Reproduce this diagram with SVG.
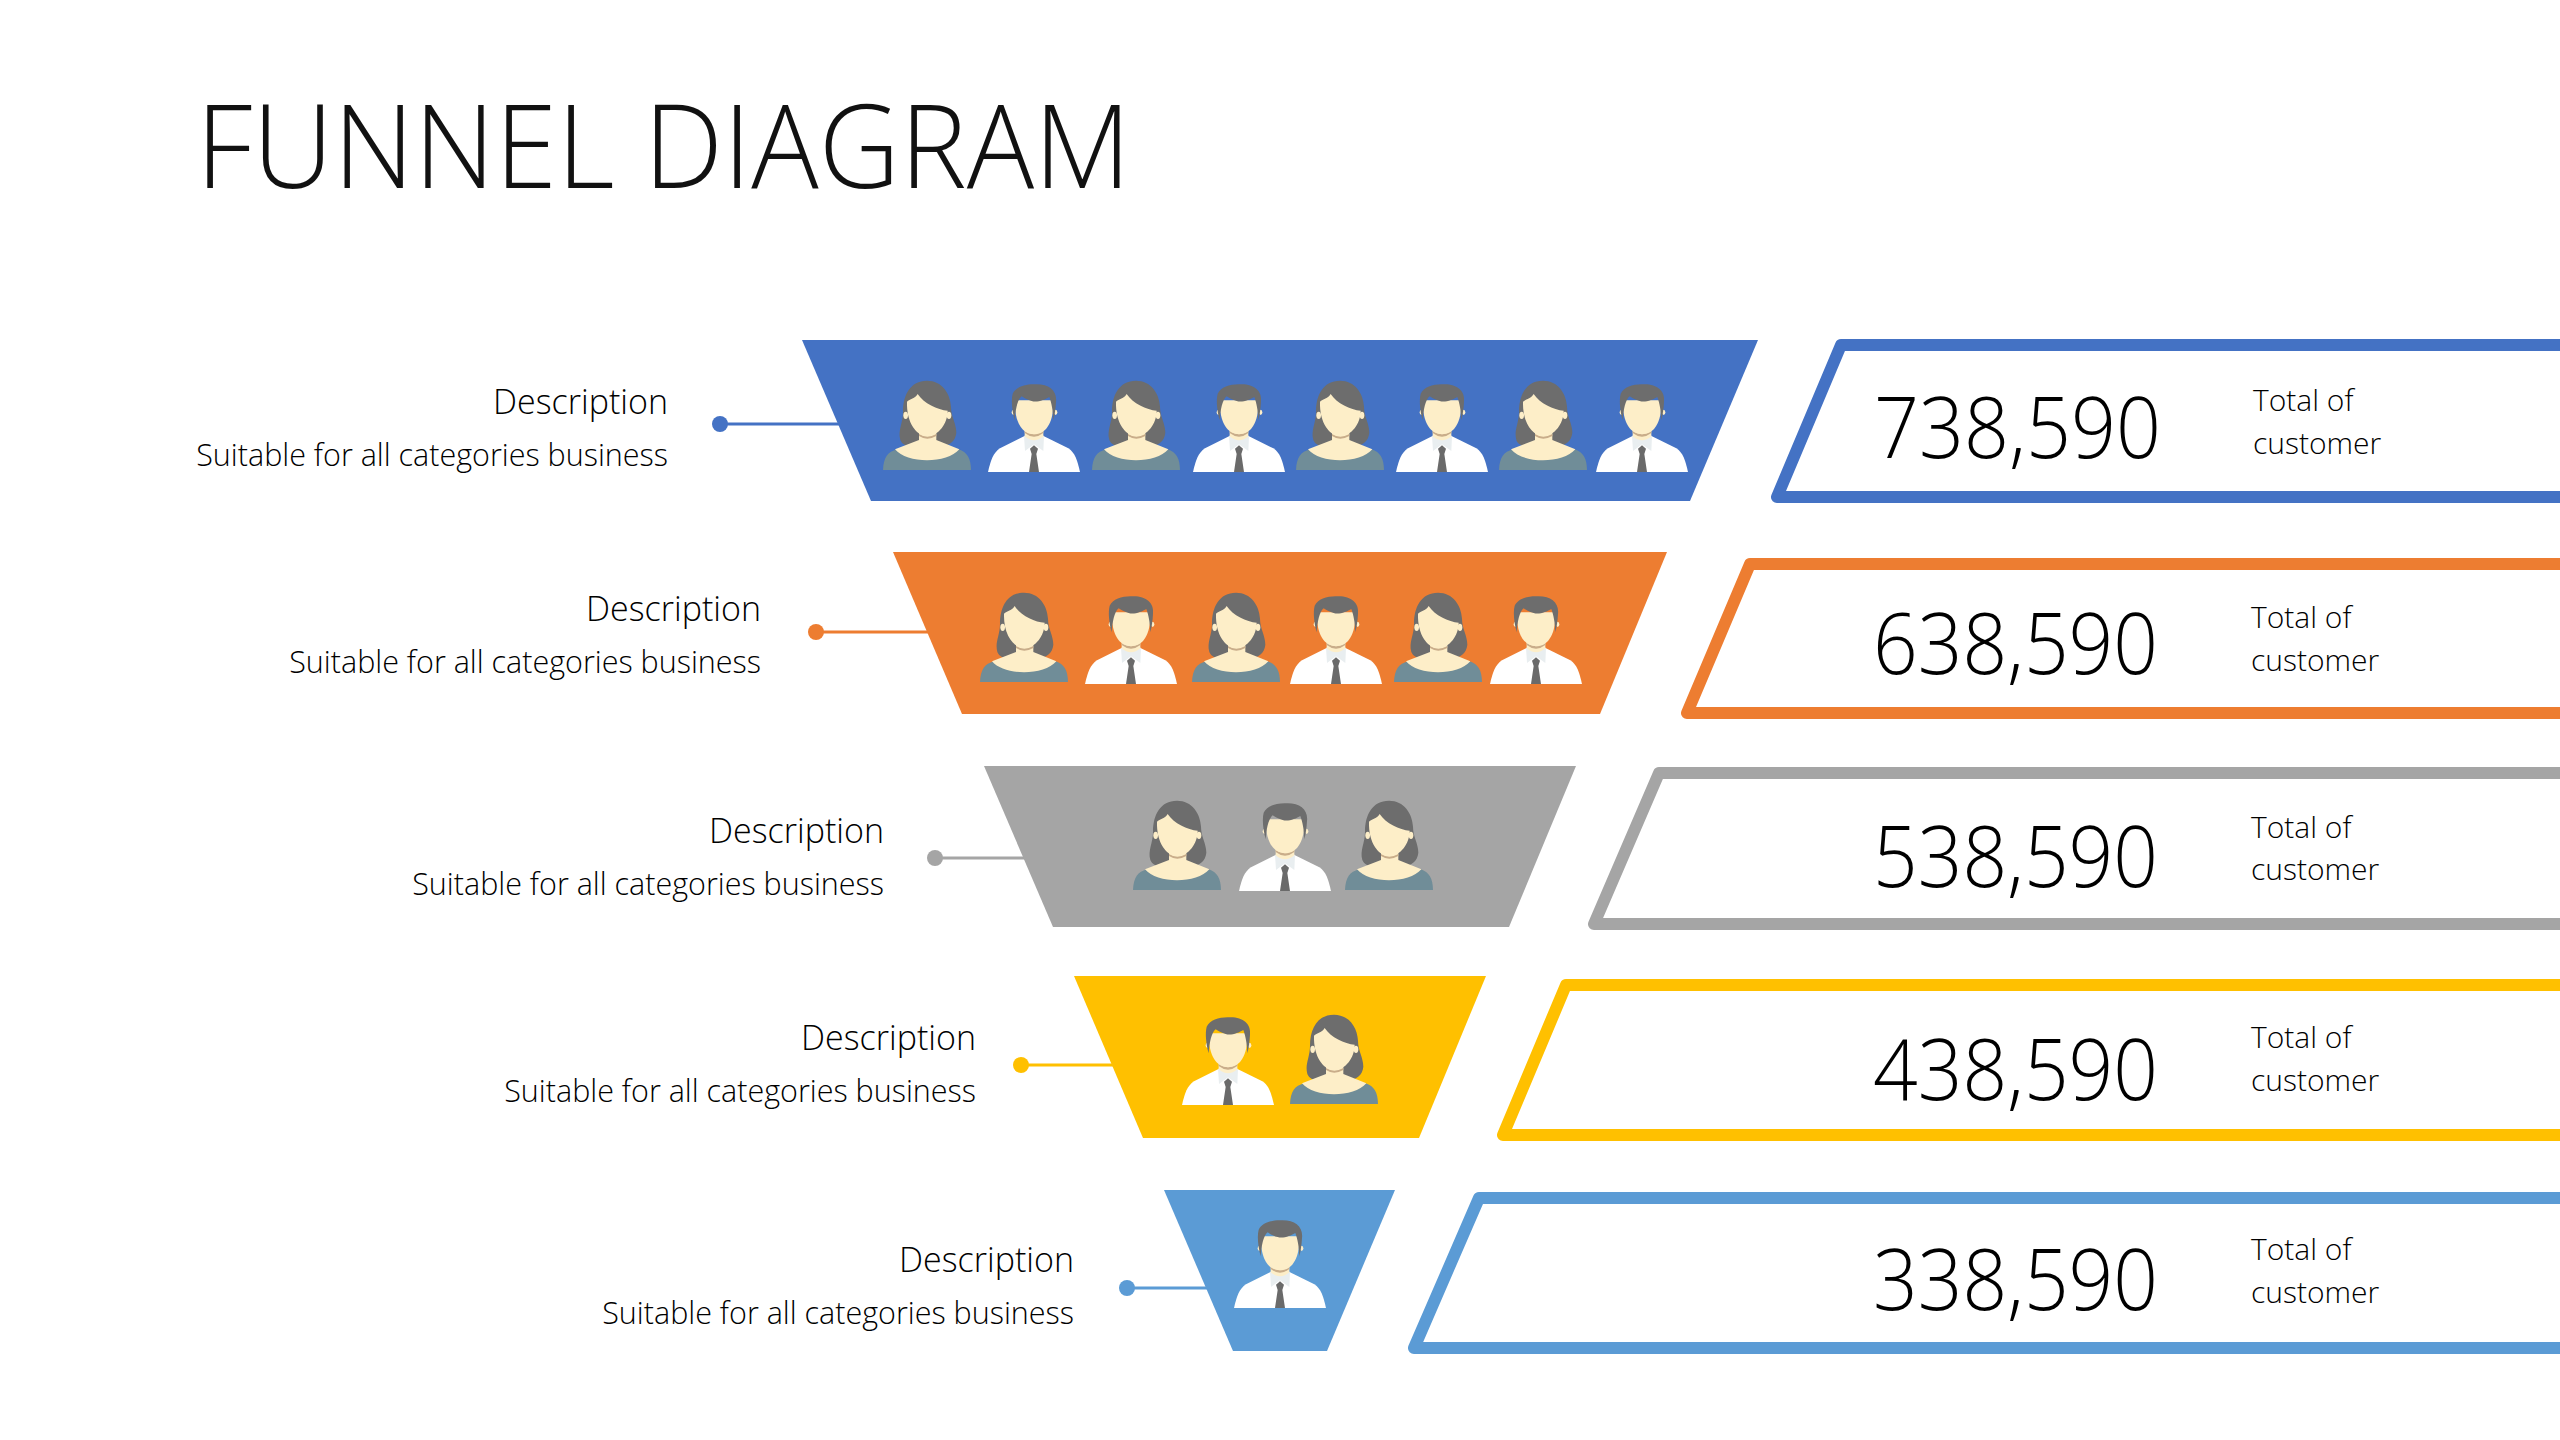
<svg xmlns="http://www.w3.org/2000/svg" width="2560" height="1440" viewBox="0 0 2560 1440">
<style>
text{font-family:"Open Sans","Noto Sans",sans-serif;font-weight:300;fill:#000}
.title{font-size:116px;fill:#111}
.d{font-size:34px;text-anchor:end}
.s{font-size:30.5px;text-anchor:end}
.n{font-size:84px}
.t{font-size:30px}
.box{fill:#fff;stroke-width:12;stroke-linejoin:round}
.lead{stroke-width:3;fill:none}
</style>
<defs>
<g id="man"><g transform="scale(.3333) translate(-522 -335)">
<path fill="#fff" d="M384,335C392,300 400,277 420,264L492,228H552L625,264C645,277 652,300 660,335Z"/>
<path fill="#e9eef0" d="M492,226H552L550,272L522,252L495,272Z"/>
<path fill="#fdeec8" d="M494,190H550V228Q522,252 494,228Z"/>
<path fill="#c9ad8a" d="M494,212Q522,232 550,212V218Q522,240 494,218Z"/>
<ellipse cx="460" cy="156" rx="5" ry="8" fill="#fdeec8"/><ellipse cx="587" cy="156" rx="5" ry="8" fill="#fdeec8"/>
<path fill="#fdeec8" d="M465,120C462,190 490,222 522,222C556,222 582,190 580,120Z"/>
<path fill="#6d6d6d" d="M464,180C456,150 453,120 458,100C468,78 500,70 530,72C568,72 592,92 588,125C587,145 584,165 580,180C579,150 575,130 568,110C555,118 530,128 515,122C500,118 490,112 485,108C472,118 466,150 464,180Z"/>
<path fill="#6a6a6a" d="M510,265L522,255L534,265L529,281L537,335H507L515,281Z"/>
</g></g>
<g id="woman"><g transform="scale(.3333) translate(-200 -330)">
<path fill="#6d6d6d" d="M200,62C150,62 128,105 128,155C128,190 112,210 120,240C128,262 160,262 178,255H228C255,265 285,250 288,218C288,190 272,170 272,140C270,100 245,62 200,62Z"/>
<path fill="#708d98" d="M68,330C70,292 82,276 110,268C150,302 250,302 295,268C320,276 332,296 332,330Z"/>
<path fill="#fdeec8" d="M104,268L176,240V210H228V240L297,268C260,312 140,312 104,268Z"/>
<path fill="#c9ad8a" d="M176,222Q200,238 228,222V228Q200,244 176,228Z"/>
<ellipse cx="136" cy="166" rx="7" ry="11" fill="#fdeec8"/><ellipse cx="266" cy="166" rx="7" ry="11" fill="#fdeec8"/>
<path fill="#fdeec8" d="M140,125C138,190 170,228 200,228C235,228 262,190 262,152C232,150 190,130 172,102C165,115 148,118 140,125Z"/>
</g></g>
</defs>
<rect width="2560" height="1440" fill="#fff"/>
<text class="title" x="196" y="188" textLength="935" lengthAdjust="spacingAndGlyphs">FUNNEL DIAGRAM</text>

<g id="connectors">
<g stroke="#4472c4" class="lead"><path d="M720,424H842"/></g><circle cx="720" cy="424" r="8" fill="#4472c4"/>
<g stroke="#ed7d31" class="lead"><path d="M816,632H930"/></g><circle cx="816" cy="632" r="8" fill="#ed7d31"/>
<g stroke="#a5a5a5" class="lead"><path d="M935,858H1026"/></g><circle cx="935" cy="858" r="8" fill="#a5a5a5"/>
<g stroke="#ffc000" class="lead"><path d="M1021,1065H1115"/></g><circle cx="1021" cy="1065" r="8" fill="#ffc000"/>
<g stroke="#5b9bd5" class="lead"><path d="M1127,1288H1210"/></g><circle cx="1127" cy="1288" r="8" fill="#5b9bd5"/>
</g>

<g id="row1">
<text class="d" x="668" y="414">Description</text><text class="s" x="668" y="466">Suitable for all categories business</text>
<path fill="#4472c4" d="M802,340H1758L1690,501H871Z"/>
<use href="#woman" x="927" y="470"/><use href="#man" x="1034" y="472"/><use href="#woman" x="1136" y="470"/><use href="#man" x="1239" y="472"/><use href="#woman" x="1340" y="470"/><use href="#man" x="1442" y="472"/><use href="#woman" x="1543" y="470"/><use href="#man" x="1642" y="472"/>
<path class="box" stroke="#4472c4" d="M2600,345H1841L1777,497H2600"/>
<text class="n" x="1874" y="458" textLength="287" lengthAdjust="spacingAndGlyphs">738,590</text>
<text class="t" x="2253" y="411">Total of</text><text class="t" x="2253" y="454">customer</text>
</g>
<g id="row2">
<text class="d" x="761" y="621">Description</text><text class="s" x="761" y="673">Suitable for all categories business</text>
<path fill="#ed7d31" d="M893,552H1667L1600,714H962Z"/>
<use href="#woman" x="1024" y="682"/><use href="#man" x="1131" y="684"/><use href="#woman" x="1236" y="682"/><use href="#man" x="1336" y="684"/><use href="#woman" x="1438" y="682"/><use href="#man" x="1536" y="684"/>
<path class="box" stroke="#ed7d31" d="M2600,564H1750L1687,713H2600"/>
<text class="n" x="1873" y="674" textLength="285" lengthAdjust="spacingAndGlyphs">638,590</text>
<text class="t" x="2251" y="628">Total of</text><text class="t" x="2251" y="671">customer</text>
</g>
<g id="row3">
<text class="d" x="884" y="843">Description</text><text class="s" x="884" y="895">Suitable for all categories business</text>
<path fill="#a5a5a5" d="M984,766H1576L1509,927H1053Z"/>
<use href="#woman" x="1177" y="890"/><use href="#man" x="1285" y="891"/><use href="#woman" x="1389" y="890"/>
<path class="box" stroke="#a5a5a5" d="M2600,773H1659L1594,924H2600"/>
<text class="n" x="1873" y="887" textLength="285" lengthAdjust="spacingAndGlyphs">538,590</text>
<text class="t" x="2251" y="838">Total of</text><text class="t" x="2251" y="880">customer</text>
</g>
<g id="row4">
<text class="d" x="976" y="1050">Description</text><text class="s" x="976" y="1102">Suitable for all categories business</text>
<path fill="#ffc000" d="M1074,976H1486L1419,1138H1143Z"/>
<use href="#man" x="1228" y="1105"/><use href="#woman" x="1334" y="1104"/>
<path class="box" stroke="#ffc000" d="M2600,985H1566L1503,1135H2600"/>
<text class="n" x="1873" y="1100" textLength="285" lengthAdjust="spacingAndGlyphs">438,590</text>
<text class="t" x="2251" y="1048">Total of</text><text class="t" x="2251" y="1091">customer</text>
</g>
<g id="row5">
<text class="d" x="1074" y="1272">Description</text><text class="s" x="1074" y="1324">Suitable for all categories business</text>
<path fill="#5b9bd5" d="M1164,1190H1395L1327,1351H1233Z"/>
<use href="#man" x="1280" y="1308"/>
<path class="box" stroke="#5b9bd5" d="M2600,1198H1479L1414,1348H2600"/>
<text class="n" x="1873" y="1310" textLength="285" lengthAdjust="spacingAndGlyphs">338,590</text>
<text class="t" x="2251" y="1260">Total of</text><text class="t" x="2251" y="1303">customer</text>
</g>
</svg>
